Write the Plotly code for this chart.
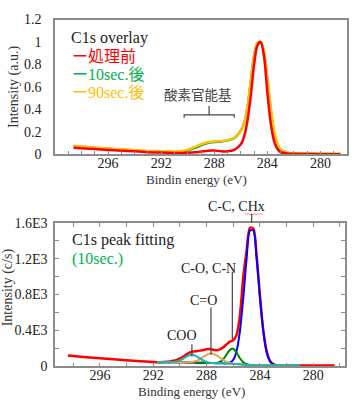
import plotly.graph_objects as go

W, H = 354, 409

# ---------------- Top chart: C1s overlay ----------------
E_top = [298.6, 298, 297, 296, 295, 294, 293, 292, 291, 290.5, 290, 289.5, 289, 288.5, 288,
         287.5, 287, 286.5, 286, 285.75, 285.5, 285.25, 285, 284.75, 284.5, 284.25, 284,
         283.75, 283.5, 283.25, 283, 282.5, 282, 281, 280, 279, 278.5]
I_untreated = [0.06, 0.055, 0.047, 0.04, 0.033, 0.027, 0.02, 0.016, 0.013, 0.013, 0.015, 0.018,
               0.025, 0.033, 0.035, 0.028, 0.027, 0.04, 0.09, 0.16, 0.30, 0.52, 0.80, 0.97,
               1.0, 0.87, 0.55, 0.28, 0.12, 0.05, 0.02, 0.008, 0.005, 0.003, 0.002, 0.002, 0.002]
I_10sec = [0.075, 0.068, 0.058, 0.05, 0.042, 0.035, 0.028, 0.024, 0.022, 0.025, 0.035, 0.055,
           0.08, 0.1, 0.11, 0.115, 0.125, 0.145, 0.21, 0.28, 0.42, 0.65, 0.88, 0.99, 1.0, 0.9,
           0.66, 0.4, 0.2, 0.09, 0.04, 0.015, 0.008, 0.005, 0.004, 0.004, 0.004]
I_90sec = [0.078, 0.07, 0.06, 0.052, 0.045, 0.038, 0.031, 0.027, 0.026, 0.03, 0.042, 0.065,
           0.09, 0.108, 0.115, 0.118, 0.127, 0.148, 0.21, 0.28, 0.42, 0.65, 0.88, 0.99, 1.0,
           0.91, 0.68, 0.42, 0.21, 0.1, 0.045, 0.018, 0.01, 0.006, 0.005, 0.005, 0.005]
X_TICKS = [296, 292, 288, 284, 280]

# ---------------- Bottom chart: C1s peak fitting (10 sec) ----------------
E_env = [298.4, 298, 297, 296, 295, 294, 293, 292, 291.7, 291.25, 291, 290.75, 290.5, 290.25,
         290, 289.75, 289.5, 289.25, 289, 288.75, 288.5, 288.25, 288, 287.75, 287.5, 287.25,
         287, 286.75, 286.5, 286.25, 286, 285.75, 285.5, 285.25, 285, 284.75, 284.5, 284.25,
         284, 283.75, 283.5, 283.25, 283, 282.75, 282.5, 282, 281, 280, 279, 278.4]
I_env = [121, 115, 102, 90, 78, 67, 57, 48, 46, 48, 50, 55, 62, 72,
         88, 110, 135, 155, 165, 170, 175, 182, 190, 193, 185, 178,
         190, 212, 245, 275, 290, 350, 570, 1000, 1290, 1545, 1535, 1230,
         790, 405, 170, 62, 24, 12, 10, 9, 9, 8, 8, 8]

E_fit = [291.7, 291.25, 291, 290.75, 290.5, 290.25, 290, 289.75, 289.5, 289.25, 289, 288.75,
         288.5, 288.25, 288, 287.75, 287.5, 287.25, 287, 286.75, 286.5, 286.25, 286, 285.75,
         285.5, 285.25, 285, 284.75, 284.5, 284.25, 284, 283.75, 283.5, 283.25, 283, 282.75,
         282.5, 282, 281]
I_CC = [46, 46, 45, 45, 45, 44, 44, 44, 43, 43, 42, 41,
        40, 39, 38, 37, 36, 35, 34, 33, 33, 40, 73, 172,
        393, 761, 1199, 1511, 1517, 1210, 770, 392, 160, 57, 21, 11,
        9, 9, 9]
I_CO_CN = [46, 46, 45, 45, 45, 44, 44, 44, 43, 43, 42, 41,
           40, 39, 38, 37, 37, 38, 49, 79, 132, 184, 195, 152,
           90, 44, 23, 15, 12, 11, 10, 10, 9, 9, 9, 9,
           9, 9, 9]
I_CdO = [46, 46, 45, 45, 45, 44, 44, 44, 44, 47, 52, 63,
         81, 105, 128, 142, 139, 121, 95, 70, 50, 37, 30, 26,
         22, 19, 16, 14, 12, 11, 10, 10, 9, 9, 9, 9,
         9, 9, 9]
I_COO = [46, 46, 45, 46, 48, 54, 67, 87, 110, 127, 128, 112,
         88, 65, 50, 41, 37, 35, 34, 33, 31, 29, 27, 25,
         22, 19, 16, 14, 12, 11, 10, 10, 9, 9, 9, 9,
         9, 9, 9]
Y2_TICKS = [0, 400, 800, 1200, 1600]
Y2_LABELS = ['0', '0.4E3', '0.8E3', '1.2E3', '1.6E3']

fig = go.Figure()

top_series = [(I_10sec, '#00B050'), (I_90sec, '#FFC000'), (I_untreated, '#FF0000')]
for ys, col in top_series:
    fig.add_trace(go.Scatter(x=E_top, y=ys, mode='lines', xaxis='x', yaxis='y',
                             line=dict(color=col, width=2.5, shape='spline', smoothing=0.8),
                             hoverinfo='skip'))

fig.add_trace(go.Scatter(x=E_env, y=I_env, mode='lines', xaxis='x2', yaxis='y2',
                         line=dict(color='#FF0000', width=2.5, shape='spline', smoothing=0.8)))
bottom_series = [(I_CC, '#0000FF'), (I_CO_CN, '#008000'), (I_CdO, '#F0A050'), (I_COO, '#1CB5B5')]
for ys, col in bottom_series:
    fig.add_trace(go.Scatter(x=E_fit, y=ys, mode='lines', xaxis='x2', yaxis='y2',
                             line=dict(color=col, width=2, shape='spline', smoothing=0.8)))

SERIF = 'Liberation Serif'
SERIF_CJK = 'Liberation Serif, Noto Sans CJK JP'
AX = '#8c8c8c'
TXT = '#222222'
tickfont = dict(family=SERIF, size=14, color=TXT)


def pxx(x):
    return x / W


def pyy(y):
    return 1 - y / H


fig.update_layout(
    width=W, height=H, margin=dict(l=0, r=0, t=0, b=0),
    paper_bgcolor='white', plot_bgcolor='white', showlegend=False,
    xaxis=dict(domain=[pxx(55), pxx(347)], range=[300, 278], anchor='y',
               showgrid=False, zeroline=False, showline=True, linecolor=AX, linewidth=1.5,
               mirror=True, ticks='inside', ticklen=4, tickcolor=AX, tickvals=X_TICKS,
               minor=dict(dtick=1, tick0=280, ticks='inside', ticklen=4, tickcolor=AX),
               tickfont=tickfont, ticklabelstandoff=-5),
    yaxis=dict(domain=[pyy(153), pyy(13)], range=[0, 1.2], anchor='x',
               showgrid=False, zeroline=False, showline=True, linecolor=AX, linewidth=1.5,
               mirror=True, ticks='', dtick=0.2, tickfont=tickfont, ticklabelstandoff=9),
    xaxis2=dict(domain=[pxx(55), pxx(345)], range=[299.37, 277.62], anchor='y2',
                showgrid=False, zeroline=False, showline=True, linecolor=AX, linewidth=1.5,
                mirror='ticks', ticks='inside', ticklen=4, tickcolor=AX, tickvals=X_TICKS,
                minor=dict(dtick=2, tick0=280, ticks='inside', ticklen=4, tickcolor=AX),
                tickfont=tickfont, ticklabelstandoff=-5),
    yaxis2=dict(domain=[pyy(373), pyy(224)], range=[0, 1600], anchor='x2',
                showgrid=False, zeroline=False, showline=True, linecolor=AX, linewidth=1.5,
                mirror='ticks', ticks='inside', ticklen=4, tickcolor=AX,
                tickvals=Y2_TICKS, ticktext=Y2_LABELS,
                minor=dict(dtick=200, ticks='inside', ticklen=4, tickcolor=AX),
                tickfont=tickfont, ticklabelstandoff=3),
)

annots = []


def ann(text, x, y, size=14, color=TXT, xanchor='left', angle=0, family=SERIF, yanchor='middle'):
    annots.append(dict(text=text, x=pxx(x), y=pyy(y), xref='paper', yref='paper',
                       xanchor=xanchor, yanchor=yanchor, showarrow=False, textangle=angle,
                       font=dict(family=family, size=size, color=color)))


# top chart texts
ann('C1s overlay', 69, 32, 16)
ann('ー処理前', 70, 51, 16, '#FF0000', family=SERIF_CJK)
ann('ー10sec.後', 70, 70, 16, '#00B050', family=SERIF_CJK)
ann('ー90sec.後', 70, 89, 16, '#FFC000', family=SERIF_CJK)
ann('酸素官能基', 198, 91, 13.5, '#444444', 'center', family=SERIF_CJK)
ann('Intensity (a.u.)', 14, 83, 14, '#333333', 'center', -90)
ann('Bindin energy (eV)', 196, 179, 13, '#333333', 'center')

# bottom chart texts
ann('C1s peak fitting', 70, 242, 16)
ann('(10sec.)', 70, 262, 16, '#00B050')
ann('C-C, CHx', 236, 207, 14, TXT, 'center')
ann('C-O, C-N', 208, 271, 14, TXT, 'center')
ann('C=O', 203, 305, 14, TXT, 'center')
ann('COO', 182, 341, 14, TXT, 'center')
ann('Intensity (c/s)', 8, 291, 14, '#333333', 'center', -90)
ann('Binding energy (eV)', 191, 409, 13, '#333333', 'center', yanchor='bottom')

fig.update_layout(annotations=annots)

LC = '#444444'


def zigzag(x0, x1, y, amp=1.0, step=2.0):
    pts = []
    x = x0
    up = True
    while x <= x1:
        pts.append((pxx(x), pyy(y - amp if up else y + amp)))
        up = not up
        x += step
    return 'M ' + ' L '.join(f'{a:.5f},{b:.5f}' for a, b in pts)


shapes = [
    # bracket for 酸素官能基 (top chart data coordinates)
    dict(type='path', xref='x', yref='y', path='M 290.27,0.326 L 290.27,0.351 L 286.5,0.351 L 286.5,0.326',
         line=dict(color=LC, width=1.2)),
    dict(type='line', xref='x', yref='y', x0=288.39, x1=288.39, y0=0.351, y1=0.43,
         line=dict(color=LC, width=1.2)),
    # leader lines (bottom chart)
    dict(type='line', xref='x2', yref='paper', x0=284.62, x1=284.62, y0=pyy(215), y1=pyy(224),
         line=dict(color=LC, width=1.2)),
    dict(type='line', xref='x2', yref='y2', x0=286.07, x1=286.07, y0=1050, y1=300,
         line=dict(color=LC, width=1.2)),
    dict(type='line', xref='x2', yref='y2', x0=287.67, x1=287.67, y0=655, y1=130,
         line=dict(color=LC, width=1.2)),
    dict(type='line', xref='x2', yref='y2', x0=289.1, x1=289.1, y0=247, y1=107,
         line=dict(color=LC, width=1.2)),
    # red wavy underline under "CHx"
    dict(type='path', xref='paper', yref='paper', path=zigzag(245, 264, 215, 0.8, 1.6),
         line=dict(color='#FF6060', width=0.8)),
]
fig.update_layout(shapes=shapes)

fig.write_html('out.html')
